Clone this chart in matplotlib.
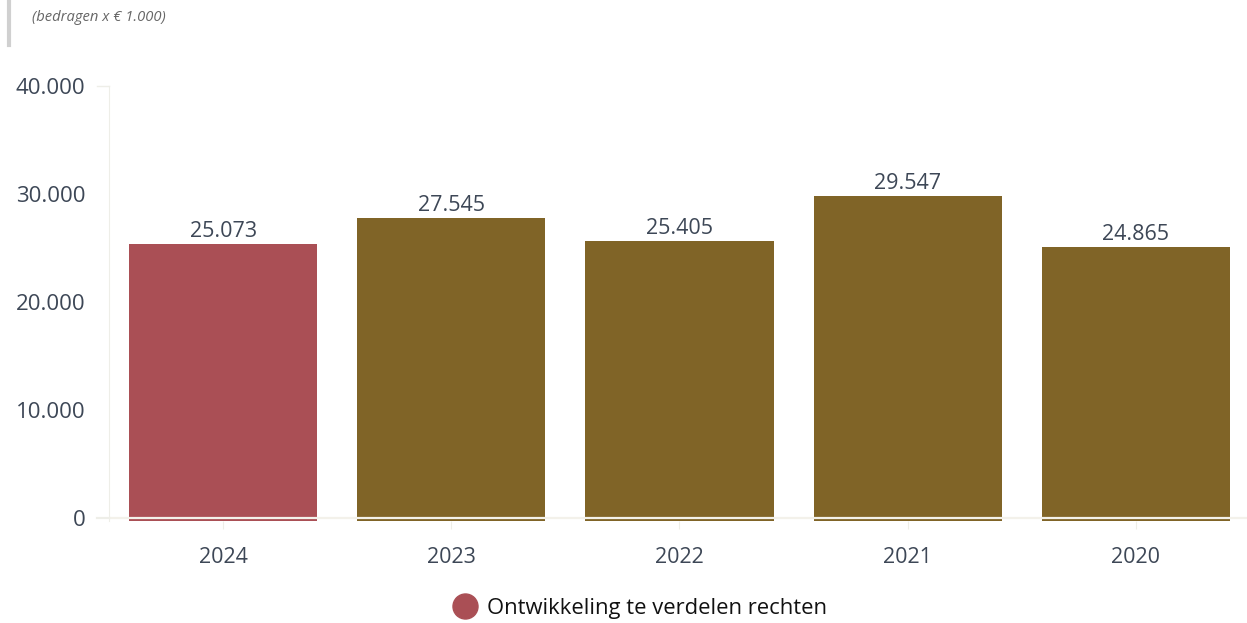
import numpy as np
import matplotlib.pyplot as plt
from matplotlib.lines import Line2D

plt.rcParams['font.family'] = ['Open Sans', 'DejaVu Sans']

years = ['2024', '2023', '2022', '2021', '2020']
values = [25073, 27545, 25405, 29547, 24865]
bar_colors = ['#aa4f55', '#806427', '#806427', '#806427', '#806427']
yticks = [0, 10000, 20000, 30000, 40000]
ytick_labels = ['0', '10.000', '20.000', '30.000', '40.000']
legend_label = 'Ontwikkeling te verdelen rechten'

text_color = '#3d4756'
line_color = '#eeeee8'
base = -300     # bars hang a little below the zero line
lift = 250      # and the rendered tops sit a bit above the value

fig = plt.figure(figsize=(12.47, 6.23), dpi=100)
ax = fig.add_axes([0.0874, 0.1637, 0.915, 0.6983])

x = np.arange(len(years))
heights = np.array(values) - base + lift
ax.bar(x, heights, width=0.825, color=bar_colors, bottom=base, zorder=2)
ax.axhline(0, color='#f3f1ea', lw=1.6, zorder=3)

for xi, v in zip(x, values):
    ax.annotate(f'{v:,}'.replace(',', '.'), (xi, v + lift), xytext=(0, 5),
                textcoords='offset points', ha='center', va='baseline',
                fontsize=15.5, color=text_color, zorder=4)

ax.set_xlim(-0.5, 4.5)
ax.set_ylim(base, 40000)
ax.set_xticks(x)
ax.set_xticklabels(years, fontsize=15.5, color=text_color)
ax.set_yticks(yticks)
ax.set_yticklabels(ytick_labels, fontsize=16, color=text_color)
ax.tick_params(axis='x', length=6, color=line_color, pad=13)
ax.tick_params(axis='y', length=0, pad=17)

for s in ['top', 'right', 'bottom']:
    ax.spines[s].set_visible(False)
ax.spines['left'].set_color(line_color)
ax.spines['left'].set_bounds(base, 40000)

# short stubs at the top of the y axis and left end of the baseline
fig.add_artist(Line2D([0.0778, 0.0874], [0.1685, 0.1685], color=line_color, lw=1.6))
fig.add_artist(Line2D([0.0778, 0.0874], [0.8620, 0.8620], color=line_color, lw=1))

# subtitle with grey bar on the left
fig.add_artist(Line2D([0.0076, 0.0076], [1.0, 0.927], color='#d0d0d0', lw=3))
fig.text(0.0257, 0.972, '(bedragen x € 1.000)', fontsize=10.6, style='italic',
         color='#666666', va='center')

# legend
handle = Line2D([], [], marker='o', color='none', markerfacecolor='#aa4f55',
                markeredgecolor='#aa4f55', markersize=18)
fig.legend([handle], [legend_label], loc='center', bbox_to_anchor=(0.513, 0.024),
           frameon=False, fontsize=15.8, handletextpad=0.4, handlelength=1.2,
           labelcolor='#111111')

fig.savefig('out.png', dpi=100)
